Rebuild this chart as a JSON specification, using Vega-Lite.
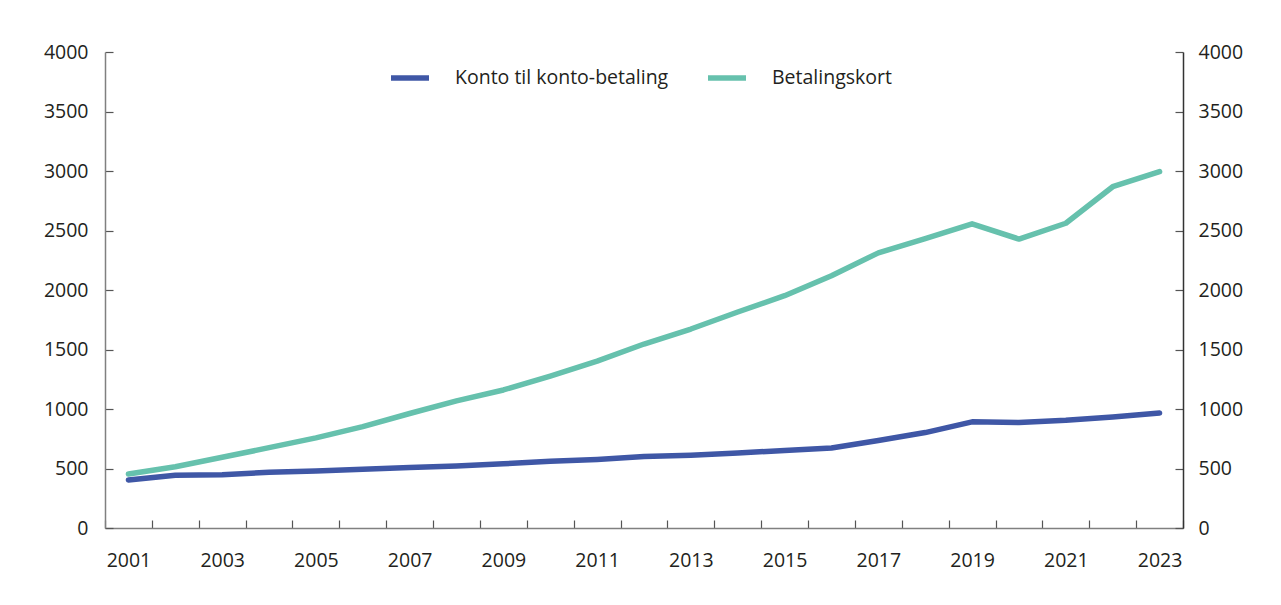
{
  "$schema": "https://vega.github.io/schema/vega-lite/v6.json",
  "width": 1078,
  "height": 476,
  "autosize": {"type": "none"},
  "padding": {"left": 105, "top": 52, "right": 98, "bottom": 77},
  "background": "white",
  "config": {
    "view": {"stroke": null},
    "font": "Open Sans",
    "axis": {
      "grid": false,
      "labelFont": "Open Sans",
      "labelFontSize": 19.5,
      "labelColor": "#231f20",
      "domainColor": "#808080",
      "domainWidth": 1.5,
      "tickColor": "#555555",
      "tickWidth": 1.2,
      "title": null
    }
  },
  "data": {
    "values": [
      {"year": 2001, "series": "Konto til konto-betaling", "value": 403},
      {"year": 2002, "series": "Konto til konto-betaling", "value": 443},
      {"year": 2003, "series": "Konto til konto-betaling", "value": 448},
      {"year": 2004, "series": "Konto til konto-betaling", "value": 468},
      {"year": 2005, "series": "Konto til konto-betaling", "value": 480},
      {"year": 2006, "series": "Konto til konto-betaling", "value": 494},
      {"year": 2007, "series": "Konto til konto-betaling", "value": 508},
      {"year": 2008, "series": "Konto til konto-betaling", "value": 522},
      {"year": 2009, "series": "Konto til konto-betaling", "value": 540},
      {"year": 2010, "series": "Konto til konto-betaling", "value": 560},
      {"year": 2011, "series": "Konto til konto-betaling", "value": 576},
      {"year": 2012, "series": "Konto til konto-betaling", "value": 600},
      {"year": 2013, "series": "Konto til konto-betaling", "value": 612},
      {"year": 2014, "series": "Konto til konto-betaling", "value": 630},
      {"year": 2015, "series": "Konto til konto-betaling", "value": 652},
      {"year": 2016, "series": "Konto til konto-betaling", "value": 672},
      {"year": 2017, "series": "Konto til konto-betaling", "value": 735},
      {"year": 2018, "series": "Konto til konto-betaling", "value": 802},
      {"year": 2019, "series": "Konto til konto-betaling", "value": 892},
      {"year": 2020, "series": "Konto til konto-betaling", "value": 887},
      {"year": 2021, "series": "Konto til konto-betaling", "value": 905},
      {"year": 2022, "series": "Konto til konto-betaling", "value": 933},
      {"year": 2023, "series": "Konto til konto-betaling", "value": 966},
      {"year": 2001, "series": "Betalingskort", "value": 454},
      {"year": 2002, "series": "Betalingskort", "value": 515},
      {"year": 2003, "series": "Betalingskort", "value": 594},
      {"year": 2004, "series": "Betalingskort", "value": 675},
      {"year": 2005, "series": "Betalingskort", "value": 757},
      {"year": 2006, "series": "Betalingskort", "value": 852},
      {"year": 2007, "series": "Betalingskort", "value": 962},
      {"year": 2008, "series": "Betalingskort", "value": 1068},
      {"year": 2009, "series": "Betalingskort", "value": 1160},
      {"year": 2010, "series": "Betalingskort", "value": 1277},
      {"year": 2011, "series": "Betalingskort", "value": 1403},
      {"year": 2012, "series": "Betalingskort", "value": 1546},
      {"year": 2013, "series": "Betalingskort", "value": 1672},
      {"year": 2014, "series": "Betalingskort", "value": 1815},
      {"year": 2015, "series": "Betalingskort", "value": 1952},
      {"year": 2016, "series": "Betalingskort", "value": 2120},
      {"year": 2017, "series": "Betalingskort", "value": 2312},
      {"year": 2018, "series": "Betalingskort", "value": 2432},
      {"year": 2019, "series": "Betalingskort", "value": 2556},
      {"year": 2020, "series": "Betalingskort", "value": 2428},
      {"year": 2021, "series": "Betalingskort", "value": 2561},
      {"year": 2022, "series": "Betalingskort", "value": 2868},
      {"year": 2023, "series": "Betalingskort", "value": 2995}
    ]
  },
  "encoding": {
    "x": {
      "field": "year",
      "type": "ordinal",
      "scale": {"type": "band", "paddingInner": 0, "paddingOuter": 0},
      "axis": {
        "orient": "bottom",
        "labelAngle": 0,
        "tickBand": "extent",
        "tickSize": -8,
        "labelPadding": 31,
        "labelExpr": "datum.value % 2 == 1 ? datum.label : ''"
      }
    }
  },
  "layer": [
    {
      "mark": {"type": "line", "strokeWidth": 5.5, "strokeCap": "round", "strokeJoin": "round"},
      "encoding": {
        "y": {
          "field": "value",
          "type": "quantitative",
          "scale": {"domain": [0, 4000], "nice": false},
          "axis": {"orient": "left", "format": "d", "tickSize": -8, "values": [0, 500, 1000, 1500, 2000, 2500, 3000, 3500, 4000], "labelPadding": 25}
        },
        "color": {
          "field": "series",
          "type": "nominal",
          "scale": {"domain": ["Konto til konto-betaling", "Betalingskort"], "range": ["#3f57a6", "#66c1ad"]},
          "legend": {
            "title": null,
            "orient": "none",
            "direction": "horizontal",
            "legendX": 283,
            "legendY": 4,
            "symbolType": "stroke",
            "symbolSize": 1444,
            "symbolStrokeWidth": 5.5,
            "labelFontSize": 19.5,
            "labelFont": "Open Sans",
            "labelColor": "#231f20",
            "labelLimit": 500,
            "labelOffset": 23,
            "columnPadding": 28
          }
        }
      }
    },
    {
      "mark": {"type": "line", "opacity": 0},
      "encoding": {
        "y": {
          "field": "value",
          "type": "quantitative",
          "axis": {"orient": "right", "format": "d", "tickSize": -8, "values": [0, 500, 1000, 1500, 2000, 2500, 3000, 3500, 4000], "labelPadding": 23, "domainColor": "#333333"}
        },
        "detail": {"field": "series"}
      }
    }
  ],
  "resolve": {"axis": {"y": "independent"}}
}
